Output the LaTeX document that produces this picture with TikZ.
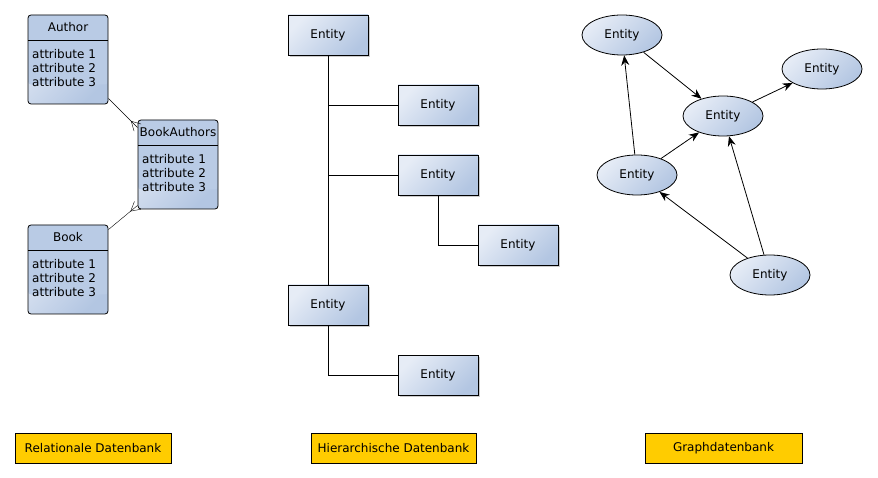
\documentclass[tikz,border=0pt]{standalone}
\usepackage{fontspec}
\setmainfont{DejaVu Sans}
\usepackage{tikz}
\usetikzlibrary{shapes.geometric, arrows.meta, shadows, calc}

\definecolor{boxlight}{HTML}{E6ECF6}
\definecolor{boxdark}{HTML}{B3C6E2}
\definecolor{headblue}{HTML}{B9CBE5}
\definecolor{labelyellow}{HTML}{FFCC00}

\tikzset{
    gradfill/.style={top color=boxlight, bottom color=boxdark, shading angle=45},
    erbox/.style={draw, thick, rounded corners=3pt, gradfill, minimum width=80pt, minimum height=89pt,
        path picture={
            \fill[headblue] (path picture bounding box.north west)
                rectangle ([yshift=-25pt]path picture bounding box.east);
            \draw ([yshift=-25pt]path picture bounding box.north west)
                -- ([yshift=-25pt]path picture bounding box.north east);
        }},
    attrs/.style={anchor=north west, align=left, inner sep=4pt, font=\fontsize{12}{14}\selectfont},
    entity/.style={draw, thick, gradfill, minimum width=80pt, minimum height=40pt,
        drop shadow={shadow xshift=2pt, shadow yshift=-2pt, fill=black, opacity=0.2}},
    gnode/.style={draw, thick, ellipse, gradfill, minimum width=80pt, minimum height=40pt, inner sep=0pt},
    dblabel/.style={draw, thick, fill=labelyellow, minimum height=30pt, inner sep=0pt}
}

\begin{document}
\begin{tikzpicture}[x=1pt, y=-1pt, font=\fontsize{12}{14}\selectfont]
    \useasboundingbox (0, 0) rectangle (878, 478);

    % relational
    \node[erbox] (author)      at ( 68,  59.5) {};
    \node[erbox] (bookauthors) at (178, 164.5) {};
    \node[erbox] (book)        at ( 68, 269.5) {};
    \node (author-title)      at ( 68,  27) {Author};
    \node (bookauthors-title) at (178, 132) {BookAuthors};
    \node (book-title)        at ( 68, 237) {Book};
    \node[attrs] (author-attrs)      at ( 28,  45) {attribute 1\\attribute 2\\attribute 3};
    \node[attrs] (bookauthors-attrs) at (138, 150) {attribute 1\\attribute 2\\attribute 3};
    \node[attrs] (book-attrs)        at ( 28, 255) {attribute 1\\attribute 2\\attribute 3};
    \coordinate (author-end) at ([yshift=6pt]author.south east);
    \coordinate (author-foot) at ([yshift=-8pt]bookauthors.north west);
    \coordinate (book-end) at ([yshift=-5pt]book.north east);
    \coordinate (book-foot) at ([yshift=4pt]bookauthors.south west);
    \draw (author-end) -- (author-foot);
    \draw (book-end) -- (book-foot);
    % crow's feet
    \draw ($(author-foot)!5pt!90:(author-end)$) -- ($(author-foot)!9pt!(author-end)$)
        -- ($(author-foot)!5pt!-90:(author-end)$);
    \draw ($(book-foot)!5pt!90:(book-end)$) -- ($(book-foot)!9pt!(book-end)$)
        -- ($(book-foot)!5pt!-90:(book-end)$);

    % hierarchical
    \node[entity] (h-root)  at (328,  35) {Entity};
    \node[entity] (h-a)     at (438, 105) {Entity};
    \node[entity] (h-b)     at (438, 175) {Entity};
    \node[entity] (h-b1)    at (518, 245) {Entity};
    \node[entity] (h-c)     at (328, 305) {Entity};
    \node[entity] (h-c1)    at (438, 375) {Entity};
    \draw[thick] (h-root.south) -- (h-c.north);
    \draw[thick] (h-a.west) -- (h-a.west -| h-root.south);
    \draw[thick] (h-b.west) -- (h-b.west -| h-root.south);
    \draw[thick] (h-b.south) |- (h-b1.west);
    \draw[thick] (h-c.south) |- (h-c1.west);

    % graph
    \node[gnode] (g-top)    at (622,  35) {Entity};
    \node[gnode] (g-right)  at (822,  69) {Entity};
    \node[gnode] (g-mid)    at (723, 116) {Entity};
    \node[gnode] (g-left)   at (637, 175) {Entity};
    \node[gnode] (g-bottom) at (770, 275) {Entity};
    \begin{scope}[-{Stealth[length=10pt, width=8pt]}, thick]
        \draw (g-top) -- (g-mid);
        \draw (g-mid) -- (g-right);
        \draw (g-left) -- (g-top);
        \draw (g-left) -- (g-mid);
        \draw (g-bottom) -- (g-left);
        \draw (g-bottom) -- (g-mid);
    \end{scope}

    % labels
    \node[dblabel, minimum width=156pt] (rel-label)   at ( 93, 448) {Relationale Datenbank};
    \node[dblabel, minimum width=165pt] (hier-label)  at (393.5, 448) {Hierarchische Datenbank};
    \node[dblabel, minimum width=157pt] (graph-label) at (723.5, 448) {Graphdatenbank};
\end{tikzpicture}
\end{document}
